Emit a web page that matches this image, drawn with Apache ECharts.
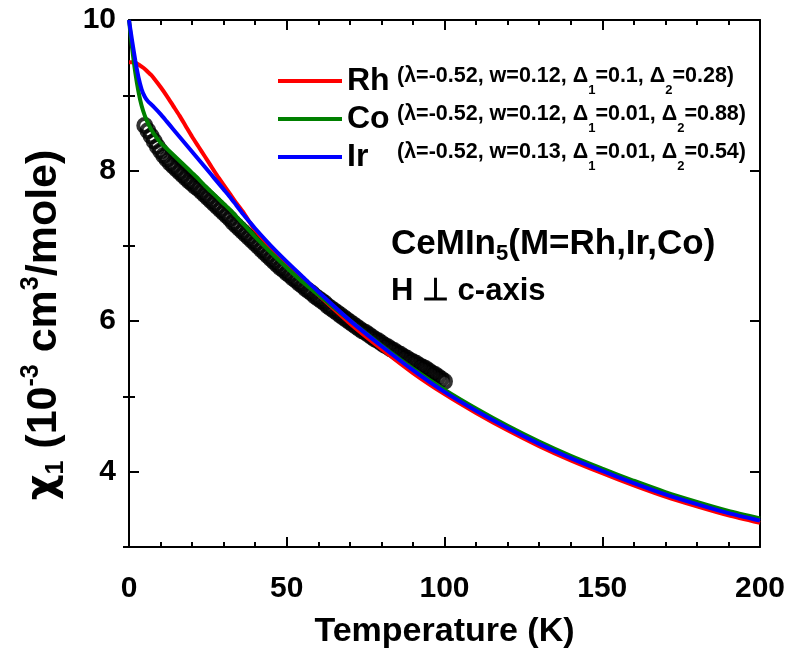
<!DOCTYPE html>
<html>
<head>
<meta charset="utf-8">
<script src="https://cdn.jsdelivr.net/npm/echarts@6/dist/echarts.min.js"></script>
<style>
html,body{margin:0;padding:0;background:#fff;}
#chart{width:789px;height:654px;}
</style>
</head>
<body>
<div id="chart"></div>
<script>
// ---- data ----
const seriesNames = ['Rh', 'Co', 'Ir'];
const seriesColors = ['#ff0000', '#008000', '#0000ff'];
const lambdas = ['-0.52', '-0.52', '-0.52'];
const ws = ['0.12', '0.12', '0.13'];
const delta1 = ['0.1', '0.01', '0.01'];
const delta2 = ['0.28', '0.88', '0.54'];

const tFit = [0,1,2,3,4,5,6,7,8,10,12,14,16,18,20,22,24,26,28,30,32,34,36,38,40,45,50,55,60,70,80,90,100,110,120,130,140,150,160,170,180,190,200];
const chiRh = [9.44,9.44,9.43,9.41,9.38,9.35,9.31,9.27,9.22,9.11,8.99,8.86,8.73,8.59,8.45,8.32,8.19,8.06,7.93,7.81,7.69,7.57,7.46,7.33,7.21,6.97,6.76,6.55,6.35,5.97,5.63,5.31,5.03,4.78,4.55,4.34,4.15,3.98,3.82,3.67,3.54,3.42,3.32];
const chiCo = [10.0,9.62,9.30,9.05,8.86,8.73,8.63,8.55,8.48,8.37,8.29,8.21,8.13,8.05,7.97,7.89,7.80,7.72,7.64,7.56,7.48,7.39,7.30,7.21,7.12,6.91,6.71,6.52,6.35,6.01,5.68,5.37,5.09,4.84,4.61,4.40,4.21,4.04,3.88,3.73,3.60,3.48,3.38];
const chiIr = [10.0,9.72,9.46,9.24,9.08,8.98,8.92,8.88,8.84,8.75,8.65,8.55,8.45,8.35,8.25,8.15,8.05,7.95,7.85,7.75,7.65,7.54,7.43,7.33,7.23,7.00,6.79,6.59,6.39,6.01,5.67,5.35,5.06,4.81,4.58,4.37,4.18,4.01,3.85,3.70,3.57,3.45,3.35];

const tExp = [5,6,7,8,9,10,11,12,13,14,15,16,17,18,19,20,21,22,23,24,25,26,27,28,29,30,31,32,33,34,35,36,37,38,39,40,41,42,43,44,45,46,47,48,49,50,51,52,53,54,55,56,57,58,59,60,61,62,63,64,65,66,67,68,69,70,71,72,73,74,75,76,77,78,79,80,81,82,83,84,85,86,87,88,89,90,91,92,93,94,95,96,97,98,99,100];
const chiExp = [8.60,8.53,8.46,8.39,8.32,8.26,8.20,8.15,8.10,8.06,8.02,7.98,7.94,7.90,7.86,7.83,7.79,7.76,7.72,7.68,7.64,7.60,7.56,7.52,7.48,7.44,7.40,7.36,7.31,7.27,7.23,7.19,7.15,7.11,7.07,7.03,6.99,6.95,6.91,6.87,6.83,6.79,6.75,6.71,6.68,6.64,6.61,6.57,6.54,6.50,6.47,6.43,6.40,6.37,6.33,6.30,6.27,6.24,6.20,6.17,6.14,6.11,6.08,6.05,6.02,5.99,5.96,5.93,5.90,5.87,5.85,5.82,5.79,5.76,5.74,5.71,5.68,5.66,5.63,5.61,5.58,5.56,5.53,5.51,5.48,5.46,5.44,5.41,5.39,5.37,5.34,5.31,5.29,5.26,5.23,5.20];

const xMajorTicks = [0,50,100,150,200];
const yLabelTicks = [4,6,8,10];
const yMinorTicks = [3,5,7,9];

// ---- chart ----
const FONT = 'Liberation Sans';
const chart = echarts.init(document.getElementById('chart'), null, {renderer: 'canvas'});

function pairs(xs, ys) { return xs.map((x, i) => [x, ys[i]]); }
const fitArrays = [chiRh, chiCo, chiIr];

const lineSeries = seriesNames.map((n, i) => ({
  name: n,
  type: 'line',
  data: pairs(tFit, fitArrays[i]),
  showSymbol: false,
  smooth: 0.2,
  lineStyle: {color: seriesColors[i], width: 4},
  itemStyle: {color: seriesColors[i]},
  z: 3 + i,
  animation: false
}));

const legendParams = {};
seriesNames.forEach((n, i) => {
  legendParams[n] = {l: lambdas[i], w: ws[i], d1: delta1[i], d2: delta2[i]};
});

const axisCommon = {
  axisLine: {show: true, onZero: false, lineStyle: {color: '#000', width: 2}},
  splitLine: {show: false},
};

const option = {
  backgroundColor: '#fff',
  animation: false,
  grid: {left: 129, right: 29, top: 20, bottom: 105, containLabel: false},
  legend: {
    data: seriesNames,
    orient: 'vertical',
    left: 278,
    top: 65,
    padding: 0,
    itemWidth: 64,
    itemHeight: 4,
    itemGap: 6,
    icon: 'rect',
    selectedMode: false,
    formatter: function (name) {
      const p = legendParams[name];
      return '{n|' + name + '}{p|(λ=' + p.l + ', w=' + p.w + ', Δ}{s|1}{p|=' + p.d1 + ', Δ}{s|2}{p|=' + p.d2 + ')}';
    },
    textStyle: {
      rich: {
        n: {fontFamily: FONT, fontWeight: 'bold', fontSize: 32, color: '#000', width: 50, lineHeight: 31},
        p: {fontFamily: FONT, fontWeight: 'bold', fontSize: 21.5, color: '#000', lineHeight: 27, verticalAlign: 'top'},
        s: {fontFamily: FONT, fontWeight: 'bold', fontSize: 13, color: '#000', lineHeight: 14, verticalAlign: 'bottom'}
      }
    }
  },
  xAxis: [
    Object.assign({}, axisCommon, {
      type: 'value', position: 'bottom', min: 0, max: 200, interval: 50,
      axisTick: {show: true, inside: true, length: 10, lineStyle: {color: '#000', width: 2}},
      minorTick: {show: true, splitNumber: 5, length: 5, lineStyle: {color: '#000', width: 2}},
      axisLabel: {show: true, margin: 27, fontFamily: FONT, fontWeight: 'bold', fontSize: 30, color: '#000',
        customValues: xMajorTicks},
      name: 'Temperature (K)',
      nameLocation: 'middle',
      nameGap: 68,
      nameTextStyle: {fontFamily: FONT, fontWeight: 'bold', fontSize: 34, color: '#000'}
    }),
    Object.assign({}, axisCommon, {
      type: 'value', position: 'top', min: 0, max: 200, interval: 50,
      axisTick: {show: true, inside: true, length: 10, lineStyle: {color: '#000', width: 2}},
      minorTick: {show: true, splitNumber: 5, length: 5, lineStyle: {color: '#000', width: 2}},
      axisLabel: {show: false}
    })
  ],
  yAxis: [
    Object.assign({}, axisCommon, {
      type: 'value', position: 'left', min: 3, max: 10, interval: 1,
      axisTick: {show: true, inside: true, length: 10, lineStyle: {color: '#000', width: 2}, customValues: yLabelTicks},
      axisLabel: {show: true, margin: 13, fontFamily: FONT, fontWeight: 'bold', fontSize: 30, color: '#000', customValues: yLabelTicks}
    }),
    Object.assign({}, axisCommon, {
      type: 'value', position: 'left', min: 3, max: 10, interval: 1,
      axisLine: {show: false},
      axisTick: {show: true, inside: true, length: 6, lineStyle: {color: '#000', width: 2}, customValues: yMinorTicks},
      axisLabel: {show: false}
    }),
    Object.assign({}, axisCommon, {
      type: 'value', position: 'right', min: 3, max: 10, interval: 1,
      axisTick: {show: true, inside: true, length: 10, lineStyle: {color: '#000', width: 2}, customValues: yLabelTicks},
      axisLabel: {show: false}
    }),
    Object.assign({}, axisCommon, {
      type: 'value', position: 'right', min: 3, max: 10, interval: 1,
      axisLine: {show: false},
      axisTick: {show: true, inside: true, length: 6, lineStyle: {color: '#000', width: 2}, customValues: yMinorTicks},
      axisLabel: {show: false}
    })
  ],
  graphic: [
    {
      type: 'text', x: 44, y: 325, rotation: Math.PI / 2, z: 10,
      style: {
        text: '{c|χ}{sb|1}{m| (10}{sp|-3}{m| cm}{sp|3}{m|/mole)}',
        x: 0, y: 0, align: 'center', verticalAlign: 'middle',
        rich: {
          c: {fontFamily: 'DejaVu Sans', fontWeight: 'bold', fontSize: 40, fill: '#000', lineHeight: 50},
          m: {fontFamily: FONT, fontWeight: 'bold', fontSize: 43, fill: '#000', lineHeight: 50},
          sb: {fontFamily: FONT, fontWeight: 'bold', fontSize: 25, fill: '#000', lineHeight: 26, verticalAlign: 'bottom'},
          sp: {fontFamily: FONT, fontWeight: 'bold', fontSize: 25, fill: '#000', lineHeight: 26, verticalAlign: 'top'}
        }
      }
    },
    {
      type: 'text', left: 391, top: 227, z: 10,
      style: {
        text: '{m|CeMIn}{s|5}{m|(M=Rh,Ir,Co)}',
        rich: {
          m: {fontFamily: FONT, fontWeight: 'bold', fontSize: 35, fill: '#000', lineHeight: 40},
          s: {fontFamily: FONT, fontWeight: 'bold', fontSize: 22, fill: '#000', lineHeight: 24, verticalAlign: 'bottom'}
        }
      }
    },
    {
      type: 'text', left: 391, top: 276, z: 10,
      style: {
        text: '{m|H ⊥ c-axis}',
        rich: {
          m: {fontFamily: FONT, fontWeight: 'bold', fontSize: 31, fill: '#000', lineHeight: 40}
        }
      }
    }
  ],
  series: [
    {
      name: 'data',
      type: 'scatter',
      data: pairs(tExp, chiExp),
      symbol: 'circle',
      symbolSize: 13,
      itemStyle: {color: 'rgba(255,255,255,0)', borderColor: '#000', borderWidth: 4},
      z: 2,
      animation: false
    }
  ].concat(lineSeries)
};
chart.setOption(option);
</script>
</body>
</html>
